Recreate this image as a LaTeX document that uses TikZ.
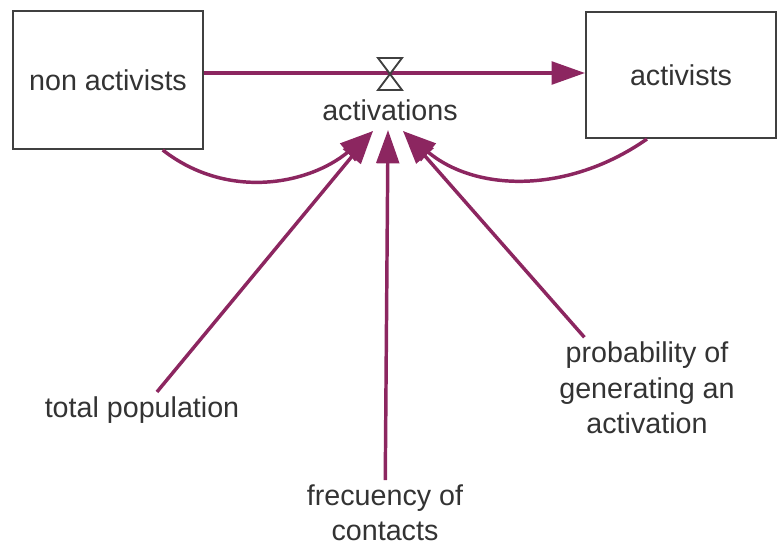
\documentclass[tikz,border=0pt]{standalone}
\usepackage{fontspec}
\setmainfont{Liberation Sans}
\usepackage{xcolor}
\usepackage{tikz}
\usetikzlibrary{positioning,arrows.meta}
\definecolor{flowpurple}{RGB}{140,38,96}
\definecolor{boxgray}{RGB}{64,64,64}
\definecolor{textgray}{RGB}{51,51,51}

\begin{document}
\begin{tikzpicture}[x=0.75pt, y=-0.75pt,
  every node/.style={font=\fontsize{21.5}{26.6}\selectfont, text=textgray, align=center},
  stock/.style={draw=boxgray, line width=1.5pt, fill=white, minimum width=142.5pt, minimum height=103.5pt, inner sep=0pt},
  flowline/.style={draw=flowpurple, line width=2.6pt, -{Triangle[length=25pt,width=17pt]}},
  link/.style={draw=flowpurple, line width=2.6pt, -{Triangle[length=25pt,width=17pt]}},
  valve/.style={draw=boxgray, line width=1.4pt}]
\useasboundingbox (0,0) rectangle (777,546);
\node[stock] (na) at (108,80) {non activists};
\node[stock, minimum height=94.5pt] (ac) at (681,75) {activists};
\node (act) at (390,110) {activations};
\coordinate (vc) at (390,73);
\node (tp) at (142,410) {total population};
\node (fc) at (385,513) {frecuency of\\contacts};
\node (pr) at (647,388) {probability of\\generating an\\activation};
\coordinate (inL) at (373,131);
\coordinate (inM) at (388,130);
\coordinate (inR) at (403,131);
% flow with valve
\draw[flowline] (na.east |- vc) -- (ac.west |- vc);
\draw[valve, fill=white] (378,58) -- (402,58) -- (378,90) -- (402,90) -- cycle;
% influences
\draw[link] (na.-52) to[out=-38, in=-140] (inL);
\draw[link] (ac.-118) to[out=-145, in=-40] (inR);
\draw[link] (tp) -- (inL);
\draw[link] (fc) -- (inM);
\draw[link] (pr.141) -- (inR);
\end{tikzpicture}
\end{document}
